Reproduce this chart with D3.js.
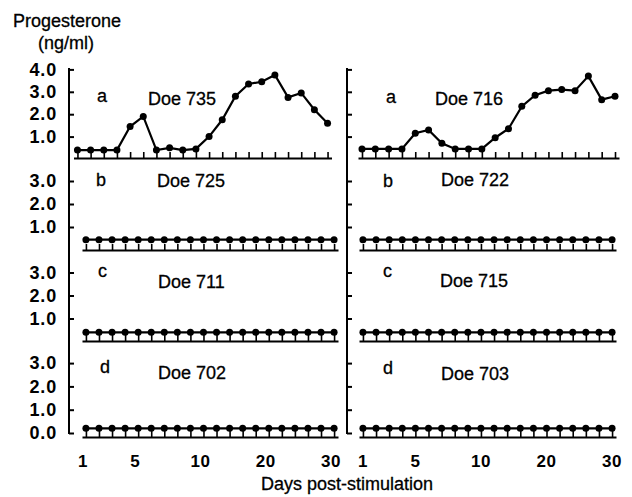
<!DOCTYPE html>
<html>
<head>
<meta charset="utf-8">
<script src="https://cdn.jsdelivr.net/npm/d3@7"></script>
<style>
  body { margin: 0; background: #fff; }
  text { font-family: Arial, "Liberation Sans", sans-serif; fill: #000; }
  .lab { stroke: #000; stroke-width: 0.3px; }
</style>
</head>
<body>
<div id="chart"></div>
<script>
// sampling days (daily to day 10, then every 2nd day)
var days = [1, 2, 3, 4, 5, 6, 7, 8, 9, 10, 12, 14, 16, 18, 20, 22, 24, 26, 28, 30];
var dayLabels = [1, 5, 10, 20, 30];

// progesterone, ng/ml
var doe735 = [0.4, 0.4, 0.4, 0.4, 1.45, 1.9, 0.4, 0.5, 0.4, 0.45, 1.0, 1.75, 2.8, 3.35, 3.45, 3.75, 2.75, 2.95, 2.2, 1.6];
var doe716 = [0.45, 0.45, 0.45, 0.45, 1.15, 1.3, 0.7, 0.45, 0.45, 0.45, 0.95, 1.35, 2.35, 2.85, 3.05, 3.1, 3.05, 3.7, 2.65, 2.8];
var doe725 = [0.45, 0.45, 0.45, 0.45, 0.45, 0.45, 0.45, 0.45, 0.45, 0.45, 0.45, 0.45, 0.45, 0.45, 0.45, 0.45, 0.45, 0.45, 0.45, 0.45];
var doe722 = [0.45, 0.45, 0.45, 0.45, 0.45, 0.45, 0.45, 0.45, 0.45, 0.45, 0.45, 0.45, 0.45, 0.45, 0.45, 0.45, 0.45, 0.45, 0.45, 0.45];
var doe711 = [0.4, 0.4, 0.4, 0.4, 0.4, 0.4, 0.4, 0.4, 0.4, 0.4, 0.4, 0.4, 0.4, 0.4, 0.4, 0.4, 0.4, 0.4, 0.4, 0.4];
var doe715 = [0.4, 0.4, 0.4, 0.4, 0.4, 0.4, 0.4, 0.4, 0.4, 0.4, 0.4, 0.4, 0.4, 0.4, 0.4, 0.4, 0.4, 0.4, 0.4, 0.4];
var doe702 = [0.2, 0.2, 0.2, 0.2, 0.2, 0.2, 0.2, 0.2, 0.2, 0.2, 0.2, 0.2, 0.2, 0.2, 0.2, 0.2, 0.2, 0.2, 0.2, 0.2];
var doe703 = [0.2, 0.2, 0.2, 0.2, 0.2, 0.2, 0.2, 0.2, 0.2, 0.2, 0.2, 0.2, 0.2, 0.2, 0.2, 0.2, 0.2, 0.2, 0.2, 0.2];

var panelLetters = ["a", "b", "c", "d"];
var leftNames = ["Doe 735", "Doe 725", "Doe 711", "Doe 702"];
var rightNames = ["Doe 716", "Doe 722", "Doe 715", "Doe 703"];
var leftSeries = [doe735, doe725, doe711, doe702];
var rightSeries = [doe716, doe722, doe715, doe703];
var yTicks = [[1, 2, 3, 4], [1, 2, 3], [1, 2, 3], [0, 1, 2, 3]];

var width = 632, height = 497;

// layout: one entry per row (zero pixel, px per unit, x-axis line)
var rows = [
  { zero: 159, unit: 22.4, axisY: 158 },
  { zero: 250, unit: 23, axisY: 250 },
  { zero: 341.5, unit: 23, axisY: 341 },
  { zero: 433, unit: 23.3, axisY: 437 }
];
var cols = [
  { axisX: 69, labels: true, rangeTop: [73.5, 331.5], range: [82, 338], dayDx: -3,
    letterPos: [[97, 102], [96, 186], [98, 277], [100, 373]],
    namePos: [[148, 105], [157, 187], [158, 288], [158, 379]] },
  { axisX: 347, labels: false, rangeTop: [358, 619], range: [359, 616], dayDx: 0,
    letterPos: [[386, 103], [383, 187], [383, 277], [383, 374]],
    namePos: [[435, 105], [441, 186], [440, 287], [441, 380]] }
];

var svg = d3.select("#chart").append("svg")
  .attr("width", width)
  .attr("height", height);

svg.append("text").attr("class", "lab").attr("x", 13).attr("y", 27)
  .style("font-size", "18px").text("Progesterone");
svg.append("text").attr("class", "lab").attr("x", 38).attr("y", 49)
  .style("font-size", "18px").text("(ng/ml)");

cols.forEach(function (col, c) {
  var series = c === 0 ? leftSeries : rightSeries;
  var names = c === 0 ? leftNames : rightNames;

  // continuous y axis spine
  svg.append("line")
    .attr("x1", col.axisX).attr("x2", col.axisX)
    .attr("y1", 68).attr("y2", 434)
    .attr("stroke", "#000").attr("stroke-width", 2);

  rows.forEach(function (row, r) {
    var top = yTicks[r][yTicks[r].length - 1];
    var y = d3.scaleLinear().domain([0, top]).range([row.zero, row.zero - top * row.unit]);
    var x = d3.scalePoint().domain(days)
      .range(r === 0 ? col.rangeTop : col.range)
      .padding(0.3);

    // y ticks pointing inward
    var yAxis = d3.axisLeft(y).tickValues(yTicks[r]).tickSize(-5).tickPadding(12)
      .tickFormat(col.labels ? d3.format(".1f") : "");
    var gy = svg.append("g")
      .attr("transform", "translate(" + col.axisX + ",0)")
      .call(yAxis);
    gy.select(".domain").remove();
    gy.selectAll("line").attr("stroke-width", 2);
    gy.selectAll("text")
      .style("font-size", "18px").style("font-weight", "bold")
      .style("letter-spacing", "0.8px")
      .attr("font-family", null);

    // x axis comb: ticks up at every sampling day
    var xAxis = d3.axisBottom(x).tickSize(-6).tickSizeOuter(0).tickFormat("");
    var gx = svg.append("g")
      .attr("transform", "translate(0," + row.axisY + ")")
      .call(xAxis);
    gx.select(".domain").attr("stroke-width", 2.2);
    gx.selectAll(".tick line").attr("stroke-width", 1.6);

    if (r === rows.length - 1) {
      svg.selectAll(null).data(dayLabels).enter().append("text")
        .attr("x", function (d) { return x(d); })
        .attr("dx", col.dayDx)
        .attr("y", 467)
        .attr("text-anchor", "middle")
        .style("font-size", "17px").style("font-weight", "bold")
        .style("letter-spacing", "0.5px")
        .text(function (d) { return d; });
    }

    var line = d3.line()
      .x(function (d, i) { return x(days[i]); })
      .y(function (d) { return y(d); });
    svg.append("path")
      .datum(series[r])
      .attr("d", line)
      .attr("fill", "none")
      .attr("stroke", "#000")
      .attr("stroke-width", 2.2);
    svg.selectAll(null).data(series[r]).enter().append("circle")
      .attr("cx", function (d, i) { return x(days[i]); })
      .attr("cy", function (d) { return y(d); })
      .attr("r", 3.5)
      .attr("fill", "#000");

    svg.append("text").attr("class", "lab")
      .attr("x", col.letterPos[r][0]).attr("y", col.letterPos[r][1])
      .style("font-size", "18px").text(panelLetters[r]);
    svg.append("text").attr("class", "lab")
      .attr("x", col.namePos[r][0]).attr("y", col.namePos[r][1])
      .style("font-size", "18px").text(names[r]);
  });
});

svg.append("text").attr("class", "lab").attr("x", 261).attr("y", 490)
  .style("font-size", "18px").text("Days post-stimulation");
</script>
</body>
</html>
